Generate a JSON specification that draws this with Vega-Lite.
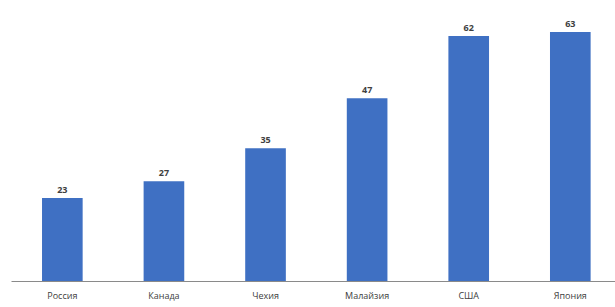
{
  "$schema": "https://vega.github.io/schema/vega-lite/v6.json",
  "autosize": {"type": "none"},
  "padding": {"left": 11, "top": 7, "right": 0, "bottom": 26},
  "width": 604,
  "height": 274,
  "background": "white",
  "config": {"view": {"stroke": null}},
  "data": {"values": [
    {"country": "Россия", "value": 23},
    {"country": "Канада", "value": 27},
    {"country": "Чехия", "value": 35},
    {"country": "Малайзия", "value": 47},
    {"country": "США", "value": 62},
    {"country": "Япония", "value": 63}
  ]},
  "encoding": {
    "x": {"field": "country", "type": "nominal", "sort": null,
      "scale": {"paddingInner": 0.6, "paddingOuter": 0.2726, "align": 0.56},
      "axis": {"title": null, "labelAngle": 0, "ticks": false, "domainColor": "#8a8a8a", "domainWidth": 1,
        "labelFont": "Open Sans", "labelFontSize": 9, "labelColor": "#404040", "labelPadding": 10}},
    "y": {"field": "value", "type": "quantitative",
      "scale": {"domain": [3, 69], "zero": false, "nice": false},
      "axis": null}
  },
  "layer": [
    {"mark": {"type": "bar", "color": "#3f70c3"},
     "encoding": {"y2": {"datum": 3}}},
    {"mark": {"type": "text", "dy": -8, "font": "Open Sans", "fontSize": 9, "fontWeight": "bold", "color": "#404040"},
     "encoding": {"text": {"field": "value", "type": "quantitative"}}}
  ]
}
